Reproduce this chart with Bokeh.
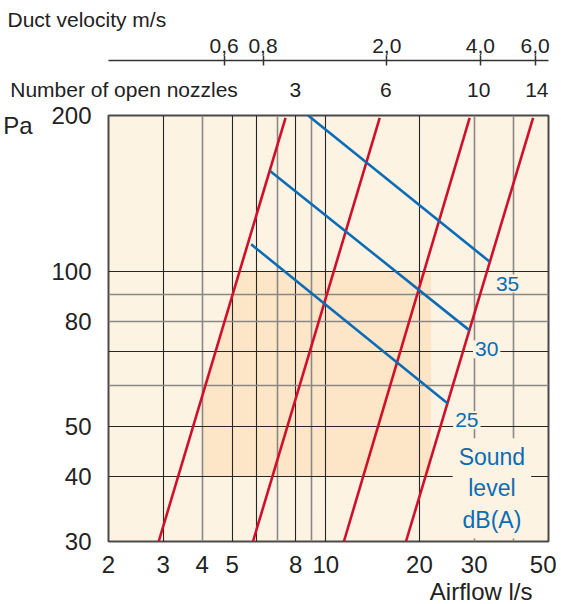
import math
from bokeh.plotting import figure
from bokeh.models import Range1d, LogScale, LogAxis, FixedTicker, Grid, Label, Title
from bokeh.embed import file_html
from bokeh.resources import INLINE

# ---------------- data ----------------
airflow_range = (2, 52)          # l/s
pressure_range = (30, 200)       # Pa
airflow_ticks = [2, 3, 4, 5, 8, 10, 20, 30, 50]
pressure_ticks = [30, 40, 50, 80, 100, 200]

# nozzle characteristic lines (p ~ q^2): airflow at the low and high pressure
nozzle_counts = [3, 6, 10, 14]
nozzle_p_low = 30
nozzle_p_high = 198
nozzle_q_low = [2.90, 5.83, 11.43, 18.1]
nozzle_q_high = [7.42, 14.9, 29.0, 46.4]
nozzle_label_q = [7.98, 15.6, 31.0, 47.7]

# sound level lines dB(A)
sound_levels = [25, 30, 35]
sound_q_start = [5.75, 6.63, 8.77]
sound_p_start = [112.7, 156.1, 200.0]
sound_q_end = [24.6, 28.9, 33.5]
sound_p_end = [55.5, 76.9, 104.5]
sound_label_q = [28.4, 32.9, 38.4]
sound_label_p = [51.5, 70.6, 94.6]
sound_title_q = 34.2
sound_title_p = 38.0

# duct velocity axis (l/s per m/s)
duct_factor = 7.85
velocity_ticks = [0.6, 0.8, 2.0, 4.0, 6.0]
velocity_labels = ["0,6", "0,8", "2,0", "4,0", "6,0"]

# recommended range (shaded)
shade_q = (4, 21.8)
shade_p = (40, 100)

# gridlines
x_grid_dark = [3, 5, 6, 8, 10, 20]
x_grid_gray = [4, 7, 9, 30, 40]
y_grid_dark = [40, 50, 70, 100]
y_grid_gray = [60, 80, 90]

# anchor positions of the header texts (data units)
nozzle_title_q = 2.244
pa_label_p = 191

# ---------------- style ----------------
BG = "#fdf3e3"
SHADE = "#fde6c8"
RED = "#d0102a"
BLUE = "#0b6cb5"
TXT = "#222222"
FONT = "Liberation Sans"

p = figure(width=561, height=604, x_axis_type="log", y_axis_type="log",
           x_range=Range1d(*airflow_range), y_range=Range1d(*pressure_range),
           output_backend="svg", toolbar_location=None,
           min_border_left=108, min_border_right=13, min_border_top=115, min_border_bottom=61,
           background_fill_color=BG, border_fill_color="white",
           outline_line_color="#4a4a4a", outline_line_width=2)
p.grid.visible = False

# shaded area, bounded on the left by the first nozzle line
b = math.log(nozzle_q_high[0] / nozzle_q_low[0]) / math.log(nozzle_p_high / nozzle_p_low)
q_at_top = nozzle_q_low[0] * (shade_p[1] / nozzle_p_low) ** b
p_at_left = nozzle_p_low * (shade_q[0] / nozzle_q_low[0]) ** (1 / b)
sx = [shade_q[0], shade_q[1], shade_q[1], q_at_top, shade_q[0]]
sy = [shade_p[0], shade_p[0], shade_p[1], shade_p[1], p_at_left]
p.patch(sx, sy, fill_color=SHADE, line_color=None, level="image")

for ticks, col, w in [(x_grid_dark, "#262626", 1.1), (x_grid_gray, "#8a8784", 1.6)]:
    p.add_layout(Grid(dimension=0, ticker=FixedTicker(ticks=ticks),
                      grid_line_color=col, grid_line_width=w))
for ticks, col, w in [(y_grid_dark, "#262626", 1.1), (y_grid_gray, "#8a8784", 1.6)]:
    p.add_layout(Grid(dimension=1, ticker=FixedTicker(ticks=ticks),
                      grid_line_color=col, grid_line_width=w))

# nozzle lines
p.segment(x0=nozzle_q_low, y0=[nozzle_p_low] * 4, x1=nozzle_q_high, y1=[nozzle_p_high] * 4,
          line_color=RED, line_width=2.6)
# sound lines
p.segment(x0=sound_q_start, y0=sound_p_start, x1=sound_q_end, y1=sound_p_end,
          line_color=BLUE, line_width=2.6)

for lv, q, pr in zip(sound_levels, sound_label_q, sound_label_p):
    p.add_layout(Label(x=q, y=pr, text=str(lv), text_align="center", text_baseline="middle",
                       text_font=FONT, text_font_size="21px", text_color=BLUE,
                       background_fill_color=BG, padding=2))
p.add_layout(Label(x=sound_title_q, y=sound_title_p, text="Sound\nlevel\ndB(A)",
                   text_align="center", text_baseline="middle", text_font=FONT,
                   text_font_size="23px", text_color=BLUE, text_line_height=1.2,
                   background_fill_color=BG, padding=6))

# bottom / left axes
xa = p.xaxis[0]
xa.ticker = FixedTicker(ticks=airflow_ticks)
xa.major_label_overrides = {t: str(t) for t in airflow_ticks}
ya = p.yaxis[0]
ya.ticker = FixedTicker(ticks=pressure_ticks)
ya.major_label_overrides = {t: str(t) for t in pressure_ticks}
for ax in (xa, ya):
    ax.axis_line_color = None
    ax.major_tick_line_color = None
    ax.minor_tick_line_color = None
    ax.major_label_text_font = FONT
    ax.major_label_text_font_size = "24px"
    ax.major_label_text_color = TXT
xa.major_label_standoff = 8
ya.major_label_standoff = 11

# unit "Pa" on the left, beside the top tick label
pa_axis = LogAxis(ticker=FixedTicker(ticks=[pa_label_p]), major_label_overrides={pa_label_p: "Pa"},
                  axis_line_color=None, major_tick_line_color=None, minor_tick_line_color=None,
                  major_tick_out=0, major_tick_in=0, major_label_standoff=16,
                  major_label_text_font=FONT, major_label_text_font_size="24px",
                  major_label_text_color=TXT)
p.add_layout(pa_axis, "left")

# airflow unit below
p.add_layout(Title(text="Airflow l/s", align="right", offset=16, standoff=0,
                   text_font=FONT, text_font_size="24px", text_font_style="normal",
                   text_color=TXT), "below")

# top axes
p.extra_x_ranges = {"vel": Range1d(airflow_range[0] / duct_factor, airflow_range[1] / duct_factor)}
p.extra_x_scales = {"vel": LogScale()}

noz_ticks = [nozzle_title_q] + nozzle_label_q
noz_labels = ["Number of open nozzles"] + [str(n) for n in nozzle_counts]
noz = LogAxis(ticker=FixedTicker(ticks=noz_ticks),
              major_label_overrides=dict(zip(noz_ticks, noz_labels)),
              axis_line_color=None, major_tick_line_color=None, minor_tick_line_color=None,
              major_tick_out=0, major_tick_in=0, major_label_standoff=15,
              major_label_text_font=FONT, major_label_text_font_size="21px",
              major_label_text_color=TXT)
p.add_layout(noz, "above")
p.add_layout(Title(text=" ", text_font_size="8px", standoff=3), "above")

vel = LogAxis(x_range_name="vel", ticker=FixedTicker(ticks=velocity_ticks),
              major_label_overrides=dict(zip(velocity_ticks, velocity_labels)),
              axis_line_color="#333333", axis_line_width=1.5,
              major_tick_line_color="#333333", major_tick_line_width=1.5,
              major_tick_in=5, major_tick_out=5, minor_tick_line_color=None,
              major_label_standoff=3,
              major_label_text_font=FONT, major_label_text_font_size="21px",
              major_label_text_color=TXT)
p.add_layout(vel, "above")
p.add_layout(Title(text=" ", text_font_size="3px", standoff=0), "above")

p.title.text = "Duct velocity m/s"
p.title.align = "left"
p.title.offset = -101
p.title.standoff = 0
p.title.text_font = FONT
p.title.text_font_size = "21px"
p.title.text_font_style = "normal"
p.title.text_color = TXT

open("out.html", "w").write(file_html(p, INLINE))
